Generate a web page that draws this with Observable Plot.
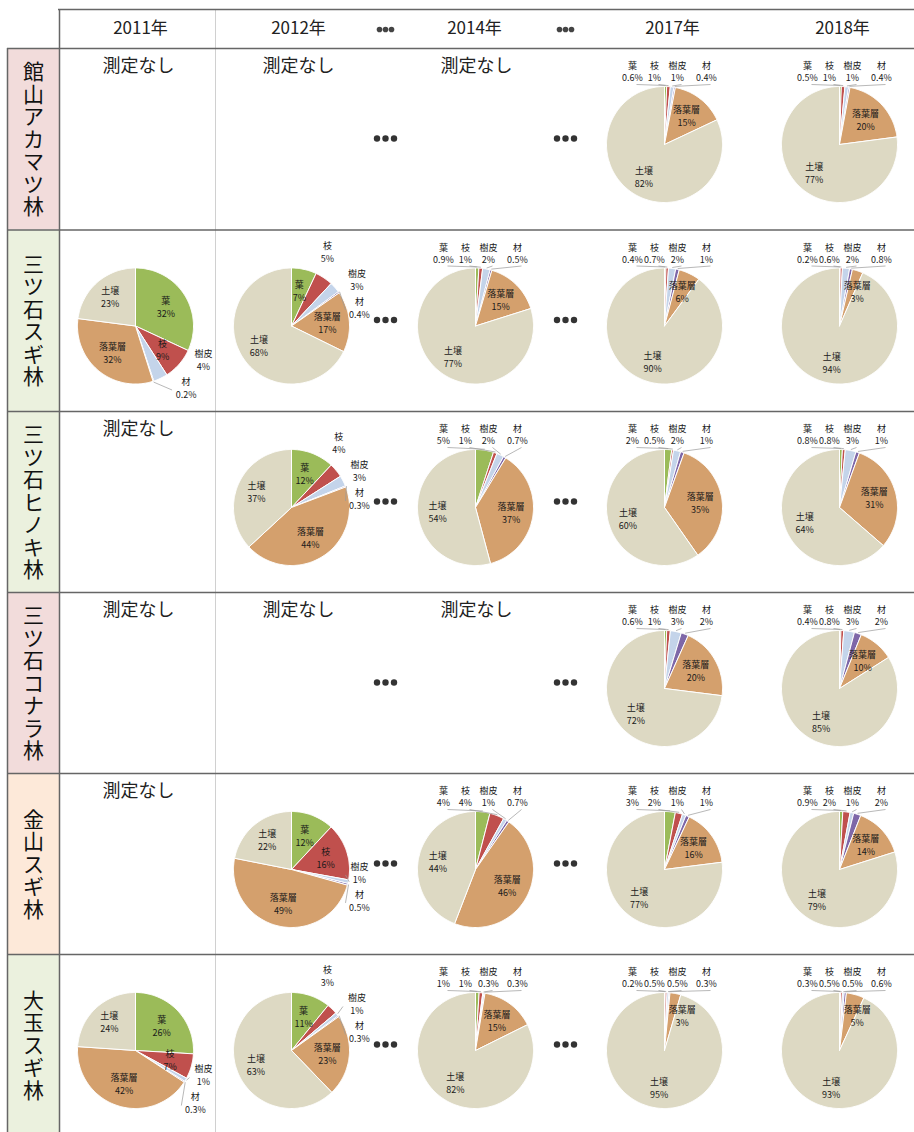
<!DOCTYPE html>
<html>
<head>
<meta charset="utf-8">
<script src="https://cdn.jsdelivr.net/npm/d3@7"></script>
<script src="https://cdn.jsdelivr.net/npm/@observablehq/plot@0.6"></script>
<style>
  html, body { margin: 0; padding: 0; background: #fff; }
  #chart svg { display: block; }
</style>
</head>
<body>
<div id="chart"></div>
<script>
// ---------- data ----------
const sites = ["館山アカマツ林", "三ツ石スギ林", "三ツ石ヒノキ林", "三ツ石コナラ林", "金山スギ林", "大玉スギ林"];
const years = ["2011年", "2012年", "2014年", "2017年", "2018年"];
const parts = ["葉", "枝", "樹皮", "材", "落葉層", "土壌"];
const noDataText = "測定なし";
// percent by part (葉, 枝, 樹皮, 材, 落葉層, 土壌) for each year; null = 測定なし
const tateyamaAkamatsu = [null, null, null, [0.6, 1, 1, 0.4, 15, 82], [0.5, 1, 1, 0.4, 20, 77]];
const mitsuishiSugi = [[32, 9, 4, 0.2, 32, 23], [7, 5, 3, 0.4, 17, 68], [0.9, 1, 2, 0.5, 15, 77], [0.4, 0.7, 2, 1, 6, 90], [0.2, 0.6, 2, 0.8, 3, 94]];
const mitsuishiHinoki = [null, [12, 4, 3, 0.3, 44, 37], [5, 1, 2, 0.7, 37, 54], [2, 0.5, 2, 1, 35, 60], [0.8, 0.8, 3, 1, 31, 64]];
const mitsuishiKonara = [null, null, null, [0.6, 1, 3, 2, 20, 72], [0.4, 0.8, 3, 2, 10, 85]];
const kanayamaSugi = [null, [12, 16, 1, 0.5, 49, 22], [4, 4, 1, 0.7, 46, 44], [3, 2, 1, 1, 16, 77], [0.9, 2, 1, 2, 14, 79]];
const ootamaSugi = [[26, 7, 1, 0.3, 42, 24], [11, 3, 1, 0.3, 23, 63], [1, 1, 0.3, 0.3, 15, 82], [0.2, 0.5, 0.5, 0.3, 3, 95], [0.3, 0.5, 0.5, 0.6, 5, 93]];
const siteValues = [tateyamaAkamatsu, mitsuishiSugi, mitsuishiHinoki, mitsuishiKonara, kanayamaSugi, ootamaSugi];

// ---------- styles / layout ----------
const W = 914, H = 1132;
const partColors = ["#9bbb59", "#c0504d", "#c4d4ea", "#7e67a8", "#d4a06d", "#ddd9c3"];
const siteBg = ["#f2dcdb", "#ebf1de", "#ebf1de", "#f2dcdb", "#fde9d9", "#ebf1de"];
const rowTops = [48, 229.5, 411, 592, 773, 954];
const rowH = 181;
const colCx = [135, 291, 475, 664, 839];
const headerX = [140, 298, 474, 672, 842];
const noDataX = [138, 298, 476];
const ellipsisX = [385, 565];
const R = 58;
const rowOffsets = [-32, -10, 13, 42];
const charStep = 22.5;

// ---------- build marks data ----------
const slicePts = [], inLabels = [], outLabels = [], leaders = [], noData = [], dots = [];

siteValues.forEach((vals, si) => {
  const top = rowTops[si];
  const cy = top + 96;
  ellipsisX.forEach(ex => [-8.5, 0, 8.5].forEach(dx => dots.push({x: ex + dx, y: top + 90, r: 1.4})));
  vals.forEach((v, yi) => {
    const cx = colCx[yi];
    if (!v) { noData.push({x: noDataX[yi], y: top + 18}); return; }
    const total = d3.sum(v);
    let acc = 0;
    const slices = v.map((val, pi) => {
      const a0 = acc / total * 2 * Math.PI; acc += val;
      const a1 = acc / total * 2 * Math.PI;
      return {pi, val, a0, a1, mid: (a0 + a1) / 2};
    });
    slices.forEach(s => {
      const id = `${si}-${yi}-${s.pi}`;
      const fill = partColors[s.pi];
      slicePts.push({id, x: cx, y: cy, fill});
      const n = Math.max(2, Math.ceil((s.a1 - s.a0) / 0.02));
      for (let k = 0; k <= n; k++) {
        const a = s.a0 + (s.a1 - s.a0) * k / n;
        slicePts.push({id, x: cx + R * Math.sin(a), y: cy - R * Math.cos(a), fill});
      }
      slicePts.push({id, x: cx, y: cy, fill});
    });
    // inside labels (落葉層 and 土壌 always inside)
    const isInside = s => s.pi >= 4 || s.val >= 7;
    slices.filter(isInside).forEach(s => {
      let rr = s.pi === 5 ? 0.66 * R : 0.62 * R;
      let a = s.mid;
      if (s.pi === 4 && s.val < 7) { a = Math.max(a, 0.48); rr = 0.66 * R; }
      const x = cx + rr * Math.sin(a), y = cy - rr * Math.cos(a);
      inLabels.push({x, y: y - 6, t: parts[s.pi], bold: true});
      inLabels.push({x, y: y + 7, t: `${s.val}%`, bold: false});
    });
    // outside labels
    const outs = slices.filter(s => !isInside(s));
    if (!outs.length) return;
    const maxEnd = d3.max(outs, s => s.a1) / (2 * Math.PI) * 100;
    if (maxEnd < 12) {
      outs.forEach((s, j) => {
        const x = cx + rowOffsets[j];
        outLabels.push({x, y: top + 18, t: parts[s.pi], bold: true});
        outLabels.push({x, y: top + 30, t: `${s.val}%`, bold: false});
        leaders.push({x1: x + 4, y1: top + 36, x2: cx + (R + 1) * Math.sin(s.mid), y2: cy - (R + 1) * Math.cos(s.mid)});
      });
    } else {
      const ys = outs.map(s => -Math.cos(s.mid) * 75);
      const gap = 28;
      for (let it = 0; it < 60; it++) {
        for (let i = 1; i < ys.length; i++) {
          const d = ys[i] - ys[i - 1];
          if (d < gap) { const sh = (gap - d) / 2; ys[i - 1] -= sh; ys[i] += sh; }
        }
      }
      const last = ys[ys.length - 1];
      if (last > 62) { const sh = last - 62; for (let i = 0; i < ys.length; i++) ys[i] -= sh; }
      if (ys[0] < -74) { const sh = -74 - ys[0]; for (let i = 0; i < ys.length; i++) ys[i] += sh; }
      outs.forEach((s, j) => {
        const dy = ys[j];
        const dx = Math.min(68, Math.max(36, Math.sqrt(Math.max(0, 80 * 80 - dy * dy))));
        const x = cx + dx, y = cy + dy;
        outLabels.push({x, y: y - 6, t: parts[s.pi], bold: true});
        outLabels.push({x, y: y + 7, t: `${s.val}%`, bold: false});
        if (s.val < 2) {
          leaders.push({x1: x - 14, y1: y + 2, x2: cx + (R + 1) * Math.sin(s.mid), y2: cy - (R + 1) * Math.cos(s.mid)});
        }
      });
    }
  });
});

const siteRows = sites.map((name, i) => ({
  name, x1: 7, x2: 59, y1: rowTops[i], y2: i < sites.length - 1 ? rowTops[i + 1] : H + 2,
  cy: rowTops[i] + rowH / 2 + 1, bg: siteBg[i]
}));
// vertical site names: one text per character
const siteChars = [];
siteRows.forEach(r => {
  const chars = Array.from(r.name);
  chars.forEach((c, k) => siteChars.push({t: c, x: 33, y: r.cy + (k - (chars.length - 1) / 2) * charStep}));
});
const headers = years.map((t, i) => ({t, x: headerX[i], y: 28}));
const headerDots = [];
ellipsisX.forEach(ex => [-6, 0, 6].forEach(dx => headerDots.push({x: ex + dx, y: 29, r: 1.1})));

const hLines = [{y: 9, x1: 58, x2: W}, ...rowTops.map(y => ({y, x1: 7, x2: W}))];
const vLines = [
  {x: 7, y1: 48, y2: H, c: "#666", w: 1.5},
  {x: 59, y1: 9, y2: H, c: "#666", w: 1.5},
  {x: 215, y1: 9, y2: H, c: "#d0d0d0", w: 1}
];

const chart = Plot.plot({
  width: W, height: H, margin: 0,
  x: {domain: [0, W], range: [0, W], axis: null},
  y: {domain: [0, H], range: [0, H], axis: null},
  color: {type: "identity"},
  style: {fontFamily: "'Noto Sans CJK JP', 'Noto Sans', sans-serif", background: "#fff"},
  marks: [
    Plot.rect(siteRows, {x1: "x1", x2: "x2", y1: "y1", y2: "y2", fill: "bg"}),
    Plot.ruleX(vLines, {x: "x", y1: "y1", y2: "y2", stroke: "c", strokeWidth: "w"}),
    Plot.ruleY(hLines, {y: "y", x1: "x1", x2: "x2", stroke: "#666", strokeWidth: 1.5}),
    Plot.text(siteChars, {x: "x", y: "y", text: "t", fontSize: 21, fill: "#111"}),
    Plot.text(headers, {x: "x", y: "y", text: "t", fontSize: 17, fill: "#222"}),
    Plot.dot(headerDots, {x: "x", y: "y", r: "r", fill: "#444", stroke: null}),
    Plot.dot(dots, {x: "x", y: "y", r: "r", fill: "#333", stroke: null}),
    Plot.text(noData, {x: "x", y: "y", text: () => noDataText, fontSize: 18, fill: "#222"}),
    Plot.line(slicePts, {x: "x", y: "y", z: "id", fill: "fill", stroke: "#fff", strokeWidth: 1, curve: "linear"}),
    Plot.link(leaders, {x1: "x1", y1: "y1", x2: "x2", y2: "y2", stroke: "#9a9a9a", strokeWidth: 0.7}),
    Plot.text(inLabels, {x: "x", y: "y", text: "t", fontSize: 9, fontWeight: d => d.bold ? 700 : 400, fill: "#1a1a1a"}),
    Plot.text(outLabels, {x: "x", y: "y", text: "t", fontSize: 9, fontWeight: d => d.bold ? 700 : 400, fill: "#1a1a1a"})
  ]
});
document.getElementById("chart").appendChild(chart);
</script>
</body>
</html>
